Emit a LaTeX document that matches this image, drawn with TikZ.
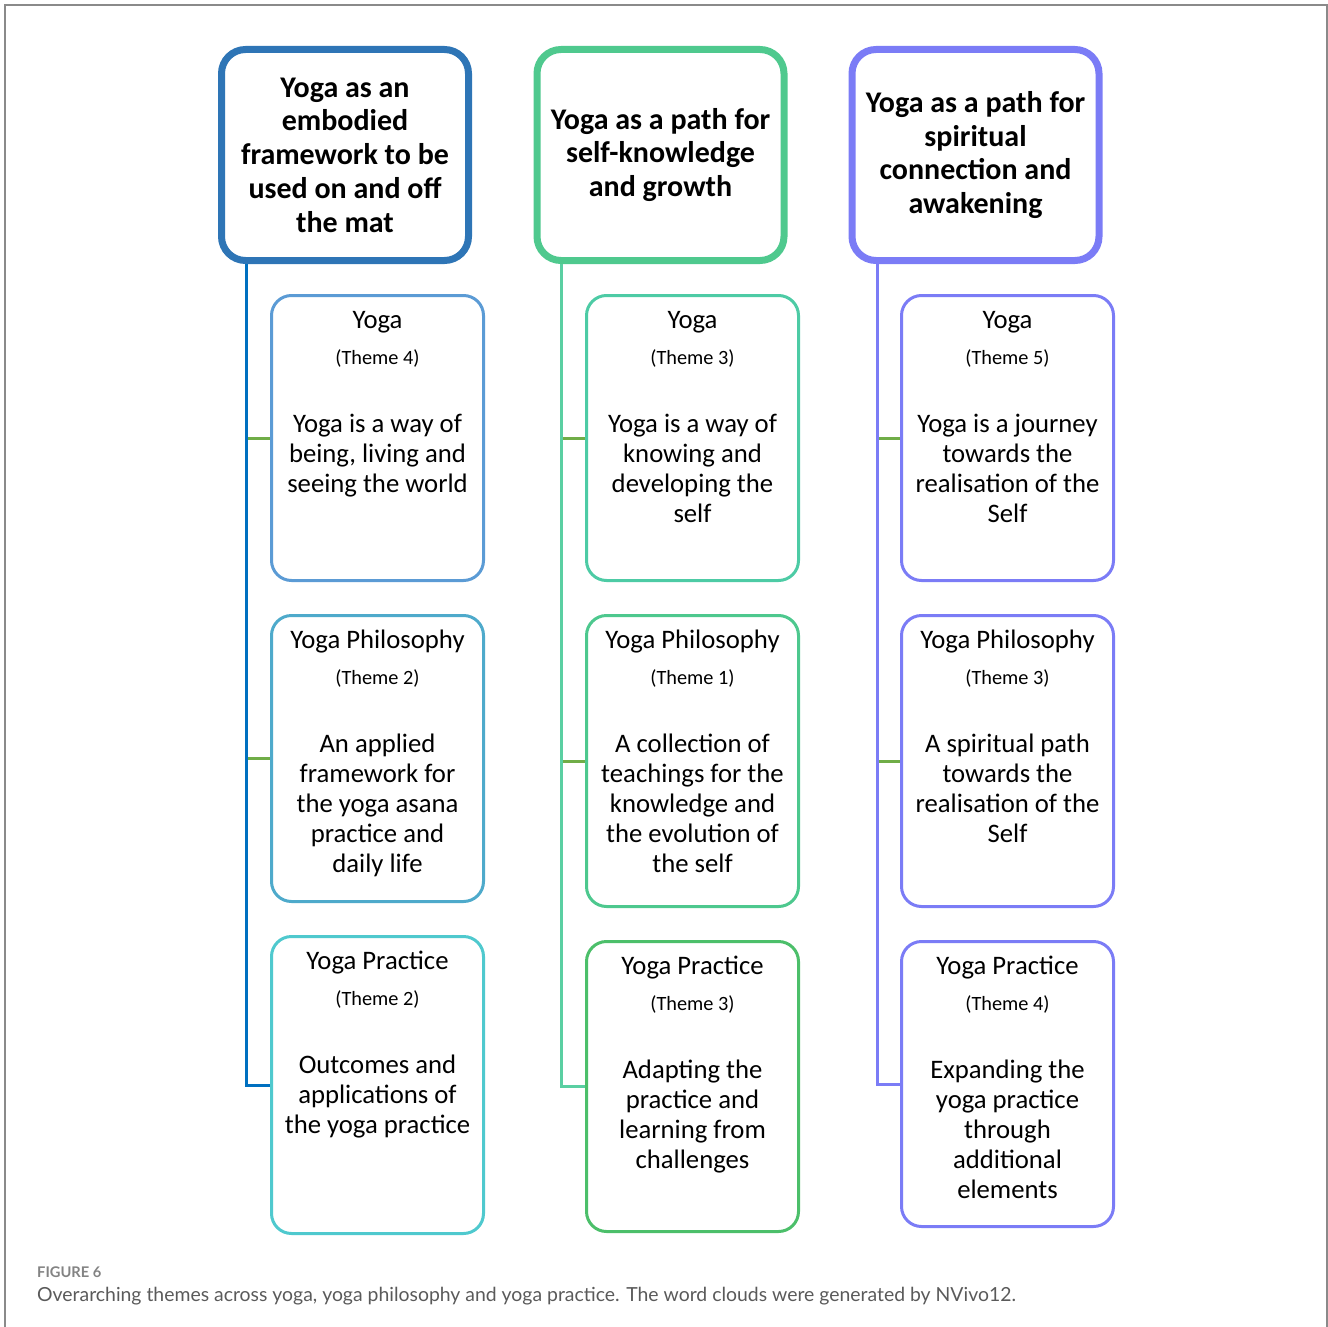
\documentclass[tikz,border=0pt]{standalone}
\usepackage{fontspec}
\setmainfont{Carlito}
\newfontfamily\capfont{Lato}
\usetikzlibrary{calc}

% colours
\definecolor{hdrA}{HTML}{2E75B6}
\definecolor{hdrB}{HTML}{4FC98E}
\definecolor{hdrC}{HTML}{7B7CF6}
\definecolor{trunkA}{HTML}{0070C0}
\definecolor{trunkB}{HTML}{5ACFA2}
\definecolor{trunkC}{HTML}{7B7CF6}
\definecolor{twigc}{HTML}{70AD47}
\definecolor{kidA1}{HTML}{5B9BD5}
\definecolor{kidA2}{HTML}{4EAACB}
\definecolor{kidA3}{HTML}{4FC9CE}
\definecolor{kidB1}{HTML}{4DCBA5}
\definecolor{kidB2}{HTML}{4DC88E}
\definecolor{kidB3}{HTML}{4CBF6A}
\definecolor{kidC}{HTML}{7B7CF6}
\definecolor{framec}{HTML}{8A8A8A}
\definecolor{capgray}{HTML}{5A5A5A}

\tikzset{
  hdr/.style={draw, line width=7pt, rounded corners=24pt, fill=white,
    minimum width=247pt, minimum height=211pt, inner sep=0pt, align=center,
    font=\fontsize{30pt}{33.75pt}\selectfont\bfseries},
  kid/.style={draw, line width=3pt, rounded corners=20pt, fill=white,
    minimum width=212pt, inner sep=0pt},
  ktitle/.style={inner sep=0pt, font=\fontsize{26.7pt}{30pt}\selectfont},
  ktheme/.style={inner sep=0pt, font=\fontsize{20.3pt}{24pt}\selectfont},
  kbody/.style={inner sep=0pt, align=center, font=\fontsize{26.7pt}{30pt}\selectfont},
  trunk/.style={line width=3pt},
  twig/.style={line width=3pt, draw=twigc},
  caption/.style={inner sep=0pt, anchor=base west, text=capgray},
}

% one theme box: name, x, y, path height, colour, title, theme, body
\newcommand\kidbox[8]{%
  \node[kid, draw=#5, minimum height=#4pt] (#1) at (#2,#3) {};
  \node[ktitle, anchor=base] (#1t) at ([yshift=-34pt]#1.north) {#6};
  \node[ktheme, anchor=base] (#1m) at ([yshift=-70.5pt]#1.north) {#7};
  \node[kbody, anchor=north] (#1b) at ([yshift=-116pt]#1.north) {\rule{0pt}{22pt}#8};
}

\begin{document}
\begin{tikzpicture}[x=1pt,y=-1pt]
\useasboundingbox (0,0) rectangle (1328,1327);

% page frame
\draw[framec, line width=2pt] (4.5,1327) -- (4.5,5.5) -- (1326.5,5.5) -- (1326.5,1327);

% column headers
\node[hdr, draw=hdrA] (h1) at (345,155) {Yoga as an\\embodied\\framework to be\\used on and off\\the mat};
\node[hdr, draw=hdrB] (h2) at (660.5,155) {Yoga as a path for\\self-knowledge\\and growth};
\node[hdr, draw=hdrC] (h3) at (975.5,155) {Yoga as a path for\\spiritual\\connection and\\awakening};

\coordinate (r1) at ([xshift=28pt]h1.south west);
\coordinate (r2) at ([xshift=28pt]h2.south west);
\coordinate (r3) at ([xshift=29pt]h3.south west);

% theme boxes
\kidbox{k11}{377.5}{438}{285}{kidA1}{Yoga}{(Theme 4)}{Yoga is a way of\\being, living and\\seeing the world}
\kidbox{k12}{377.5}{758.5}{286}{kidA2}{Yoga Philosophy}{(Theme 2)}{An applied\\framework for\\the yoga asana\\practice and\\daily life}
\kidbox{k13}{377.5}{1085}{297}{kidA3}{Yoga Practice}{(Theme 2)}{Outcomes and\\applications of\\the yoga practice}

\kidbox{k21}{692.5}{438}{285}{kidB1}{Yoga}{(Theme 3)}{Yoga is a way of\\knowing and\\developing the\\self}
\kidbox{k22}{692.5}{761}{291}{kidB2}{Yoga Philosophy}{(Theme 1)}{A collection of\\teachings for the\\knowledge and\\the evolution of\\the self}
\kidbox{k23}{692.5}{1086.5}{290}{kidB3}{Yoga Practice}{(Theme 3)}{Adapting the\\practice and\\learning from\\challenges}

\kidbox{k31}{1007.5}{438}{285}{kidC}{Yoga}{(Theme 5)}{Yoga is a journey\\towards the\\realisation of the\\Self}
\kidbox{k32}{1007.5}{761}{291}{kidC}{Yoga Philosophy}{(Theme 3)}{A spiritual path\\towards the\\realisation of the\\Self}
\kidbox{k33}{1007.5}{1084}{285}{kidC}{Yoga Practice}{(Theme 4)}{Expanding the\\yoga practice\\through\\additional\\elements}

% connectors: short branches, then the trunk running into the last box
\draw[twig] (r1 |- k11.west) -- (k11.west);
\draw[twig] (r1 |- k12.west) -- (k12.west);
\draw[trunk, draw=trunkA] (r1) |- (k13.west);

\draw[twig] (r2 |- k21.west) -- (k21.west);
\draw[twig] (r2 |- k22.west) -- (k22.west);
\draw[trunk, draw=trunkB] (r2) |- (k23.west);

\draw[twig] (r3 |- k31.west) -- (k31.west);
\draw[twig] (r3 |- k32.west) -- (k32.west);
\draw[trunk, draw=trunkC] (r3) |- (k33.west);

% caption
\node[caption, font=\capfont\fontsize{14.7pt}{16pt}\selectfont\bfseries, text=framec!95!black] (figno) at (37,1277) {FIGURE 6};
\node[caption, font=\capfont\fontsize{19.4pt}{22pt}\selectfont] (captext) at (37,1301.5) {Overarching themes across yoga, yoga philosophy and yoga practice. The word clouds were generated by NVivo12.};
\end{tikzpicture}
\end{document}
